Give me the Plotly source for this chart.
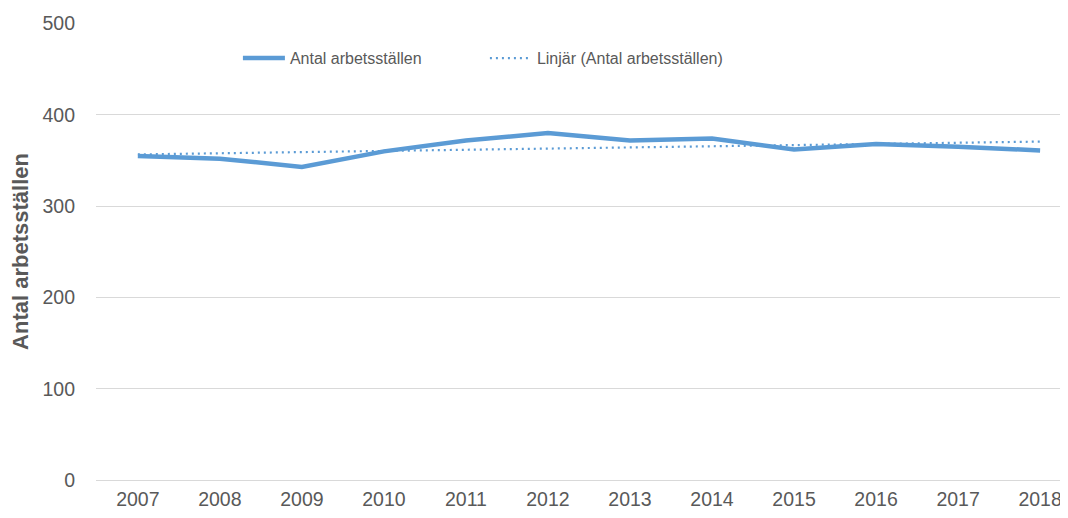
import numpy as np
import plotly.graph_objects as go

years = [2007, 2008, 2009, 2010, 2011, 2012, 2013, 2014, 2015, 2016, 2017, 2018]
antal = [355, 352, 343, 360, 372, 380, 372, 374, 362, 368, 365, 361]
y_ticks = [0, 100, 200, 300, 400, 500]

# Linear trendline (Excel "Linjär") fitted to the series
coef = np.polyfit(years, antal, 1)
trend = list(np.polyval(coef, years))

BLUE = "#5B9BD5"
GRAY = "#595959"
FONT = "Liberation Sans, Arial, sans-serif"

fig = go.Figure()
fig.add_trace(go.Scatter(
    x=years, y=antal, mode="lines", name="Antal arbetsställen",
    line=dict(color=BLUE, width=4.5),
))
fig.add_trace(go.Scatter(
    x=years, y=trend, mode="lines", name="Linjär (Antal arbetsställen)",
    line=dict(color=BLUE, width=2.2, dash="2px,4px"),
))

# page body has an 8px default margin, so the figure is sized 1060x510
fig.update_layout(
    width=1060, height=510,
    margin=dict(l=88, r=0, t=15, b=38, autoexpand=False),
    paper_bgcolor="white", plot_bgcolor="white",
    font=dict(family=FONT, color=GRAY),
    showlegend=True,
    legend=dict(
        orientation="h", xref="paper", yref="paper",
        x=0.146, y=0.923, xanchor="left", yanchor="middle",
        font=dict(size=16, color=GRAY, family=FONT),
        itemwidth=42,
        entrywidth=190, entrywidthmode="pixels",
        bgcolor="rgba(0,0,0,0)",
    ),
    xaxis=dict(
        range=[2006.49, 2018.34], tickvals=years, ticktext=[str(y) for y in years],
        showgrid=False, zeroline=False, showline=False, automargin=False,
        tickfont=dict(size=19.5, color=GRAY), ticks="", ticklabelstandoff=5,
    ),
    yaxis=dict(
        range=[0, 500.6], tickvals=y_ticks, showgrid=True, gridcolor="#D9D9D9",
        gridwidth=1, zeroline=True, zerolinecolor="#D9D9D9", zerolinewidth=1,
        showline=False, tickfont=dict(size=19.5, color=GRAY), ticks="",
        ticklabelstandoff=20, automargin=False,
        title=dict(text="<b>Antal arbetsställen</b>", font=dict(size=22, color=GRAY),
                   standoff=7),
    ),
)

fig.write_html("out.html")
